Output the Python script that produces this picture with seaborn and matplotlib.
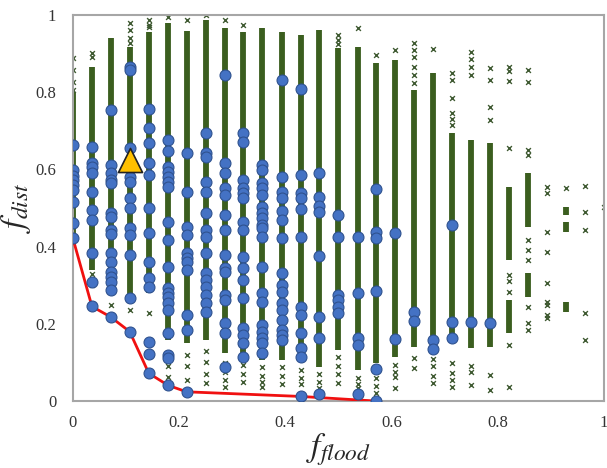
import numpy as np
import pandas as pd
import matplotlib
matplotlib.use('Agg')
import matplotlib.pyplot as plt
import seaborn as sns

# column positions of the evaluated solutions (f_flood)
col_x = [0.0, 0.036, 0.071, 0.107, 0.143, 0.179, 0.214, 0.25, 0.286, 0.321,
         0.357, 0.393, 0.429, 0.464, 0.5, 0.536, 0.571, 0.607, 0.643, 0.679,
         0.714, 0.75, 0.786, 0.821, 0.857, 0.893, 0.929, 0.964, 1.0]

# dense runs of green x markers: column index, low, high
dense_col = [0, 1, 2, 3, 4, 5, 6, 7, 8, 9, 10, 11, 12, 13, 14, 15, 16, 17, 18, 19,
             20, 21, 22, 23, 23, 24, 24, 26, 26, 26]
dense_lo = [0.43, 0.34, 0.28, 0.26, 0.28, 0.158, 0.15, 0.158, 0.124, 0.114, 0.106,
            0.106, 0.106, 0.088, 0.132, 0.08, 0.098, 0.114, 0.14, 0.127, 0.15, 0.137,
            0.14, 0.365, 0.176, 0.451, 0.27, 0.482, 0.438, 0.231]
dense_hi = [0.80, 0.866, 0.94, 0.918, 0.957, 0.98, 0.959, 0.987, 0.965, 0.957, 0.965,
            0.957, 0.948, 0.961, 0.914, 0.917, 0.876, 0.883, 0.806, 0.85, 0.694, 0.676,
            0.668, 0.554, 0.262, 0.59, 0.331, 0.503, 0.464, 0.256]

# scattered green x markers, per column
sparse_y = [
    [0.889, 0.857, 0.826, 0.806],
    [0.902, 0.892, 0.33, 0.3],
    [0.25],
    [0.979, 0.96, 0.94, 0.927, 0.236],
    [0.987, 0.975, 0.969, 0.228],
    [0.996, 0.12, 0.09, 0.062],
    [0.987, 0.12, 0.09, 0.054],
    [1.0, 0.13, 0.1, 0.07, 0.047],
    [0.987, 0.098, 0.075, 0.055, 0.036],
    [0.974, 0.093, 0.07, 0.049],
    [0.088, 0.065, 0.05, 0.036],
    [0.088, 0.065, 0.045],
    [0.08, 0.06, 0.045],
    [0.07, 0.05, 0.035],
    [0.948, 0.935, 0.925, 0.114, 0.09, 0.07, 0.047],
    [0.966, 0.06, 0.045, 0.035],
    [0.896, 0.08, 0.06, 0.04, 0.021],
    [0.909, 0.093, 0.075, 0.062, 0.034],
    [0.927, 0.91, 0.89, 0.865, 0.845, 0.824, 0.111, 0.085],
    [0.912, 0.11, 0.09, 0.065, 0.047],
    [0.85, 0.832, 0.785, 0.746, 0.73, 0.715, 0.098, 0.072, 0.055, 0.036],
    [0.905, 0.885, 0.865, 0.845, 0.09, 0.075, 0.041],
    [0.862, 0.832, 0.762, 0.728, 0.067, 0.028],
    [0.865, 0.855, 0.83, 0.655, 0.326, 0.31, 0.282, 0.145, 0.036],
    [0.857, 0.827, 0.65, 0.637, 0.417, 0.391, 0.365, 0.244, 0.202, 0.184],
    [0.554, 0.538, 0.438, 0.386, 0.306, 0.256, 0.249, 0.223, 0.215],
    [0.552],
    [0.557, 0.49, 0.443, 0.228, 0.158],
    [0.503],
]

# blue circles (selected solutions), per column
blue_y = [
    [0.663, 0.598, 0.584, 0.572, 0.56, 0.547, 0.516, 0.461, 0.422],
    [0.658, 0.617, 0.606, 0.59, 0.541, 0.495, 0.469, 0.383, 0.308, 0.245],
    [0.754, 0.611, 0.59, 0.573, 0.565, 0.487, 0.477, 0.443, 0.434, 0.383, 0.361,
     0.335, 0.322, 0.309, 0.288, 0.218],
    [0.866, 0.858, 0.655, 0.58, 0.567, 0.525, 0.5, 0.448, 0.43, 0.378, 0.267, 0.18],
    [0.756, 0.707, 0.668, 0.616, 0.585, 0.5, 0.435, 0.36, 0.318, 0.295, 0.153, 0.122, 0.072],
    [0.676, 0.648, 0.606, 0.594, 0.58, 0.567, 0.555, 0.464, 0.417, 0.347, 0.292, 0.28,
     0.27, 0.254, 0.236, 0.176, 0.119, 0.111, 0.041],
    [0.642, 0.541, 0.451, 0.43, 0.383, 0.37, 0.36, 0.339, 0.223, 0.184, 0.024],
    [0.694, 0.642, 0.632, 0.567, 0.541, 0.487, 0.443, 0.425, 0.383, 0.331, 0.313,
     0.295, 0.275, 0.253, 0.231],
    [0.845, 0.616, 0.59, 0.551, 0.534, 0.482, 0.443, 0.378, 0.344, 0.335, 0.275,
     0.262, 0.202, 0.176, 0.089],
    [0.694, 0.671, 0.573, 0.551, 0.539, 0.526, 0.464, 0.443, 0.373, 0.344, 0.313,
     0.267, 0.189, 0.171, 0.15, 0.113],
    [0.611, 0.598, 0.565, 0.551, 0.534, 0.503, 0.487, 0.474, 0.456, 0.448, 0.425,
     0.347, 0.28, 0.257, 0.197, 0.179, 0.163, 0.15, 0.124],
    [0.832, 0.58, 0.541, 0.526, 0.492, 0.469, 0.422, 0.331, 0.3, 0.283, 0.254, 0.236,
     0.21, 0.184, 0.171, 0.158],
    [0.808, 0.585, 0.539, 0.526, 0.497, 0.425, 0.244, 0.223, 0.176, 0.137, 0.113, 0.013],
    [0.59, 0.529, 0.505, 0.49, 0.375, 0.218, 0.163, 0.018],
    [0.482, 0.425, 0.275, 0.262, 0.244, 0.228],
    [0.425, 0.28, 0.163, 0.145, 0.018],
    [0.549, 0.438, 0.422, 0.285, 0.083, 0.0],
    [0.435, 0.161],
    [0.231, 0.207],
    [0.158, 0.135],
    [0.456, 0.205, 0.163],
    [0.205],
    [0.202],
]

# Pareto front (red line)
front_x = [0.0, 0.036, 0.071, 0.107, 0.143, 0.179, 0.214, 0.429, 0.571]
front_y = [0.422, 0.245, 0.218, 0.18, 0.072, 0.041, 0.024, 0.012, 0.0]

# highlighted solution (orange triangle)
pick_x = [0.107]
pick_y = [0.625]

ticks = [0, 0.2, 0.4, 0.6, 0.8, 1]
tick_labels = ['0', '0.2', '0.4', '0.6', '0.8', '1']

sparse_df = pd.DataFrame([(col_x[i], y) for i, ys in enumerate(sparse_y) for y in ys],
                         columns=['x', 'y'])
blue_df = pd.DataFrame([(col_x[i], y) for i, ys in enumerate(blue_y) for y in ys],
                       columns=['x', 'y'])
front_df = pd.DataFrame({'x': front_x, 'y': front_y})
pick_df = pd.DataFrame({'x': pick_x, 'y': pick_y})

sns.set_style('white')
plt.rcParams['font.family'] = ['Liberation Serif', 'DejaVu Serif']
plt.rcParams['mathtext.fontset'] = 'stix'

fig = plt.figure(figsize=(6.07, 4.68), dpi=100)
ax = fig.add_axes([0.120, 0.143, 0.875, 0.825])

green = '#3b5e1f'
ax.vlines([col_x[i] for i in dense_col], dense_lo, dense_hi, colors=green,
          linewidth=4.2, zorder=1)
sns.scatterplot(data=sparse_df, x='x', y='y', marker='x', s=12, color='#3f5a32',
                linewidth=1.0, ax=ax, zorder=2)
sns.lineplot(data=front_df, x='x', y='y', sort=False, color='#f01010', linewidth=2,
             ax=ax, zorder=3)
sns.scatterplot(data=blue_df, x='x', y='y', s=62, color='#4472c4',
                edgecolor='#2f528f', linewidth=0.8, ax=ax, zorder=4)
sns.scatterplot(data=pick_df, x='x', y='y', marker='^', s=300, color='#ffc000',
                edgecolor='#222222', linewidth=1.2, ax=ax, zorder=5)

ax.set_xlim(0, 1)
ax.set_ylim(0, 1)
ax.set_xticks(ticks)
ax.set_xticklabels(tick_labels)
ax.set_yticks(ticks)
ax.set_yticklabels(tick_labels)
ax.tick_params(length=0, labelsize=12, colors='#333333')
ax.tick_params(axis='y', pad=12)
ax.tick_params(axis='x', pad=10)
for s in ax.spines.values():
    s.set_color('#a6a6a6')
    s.set_linewidth(1.5)
    s.set_visible(True)

ax.set_xlabel(r'$f_{flood}$', fontsize=24, labelpad=0)
ax.set_ylabel(r'$f_{dist}$', fontsize=24, labelpad=2)

fig.savefig('out.png', dpi=100)
